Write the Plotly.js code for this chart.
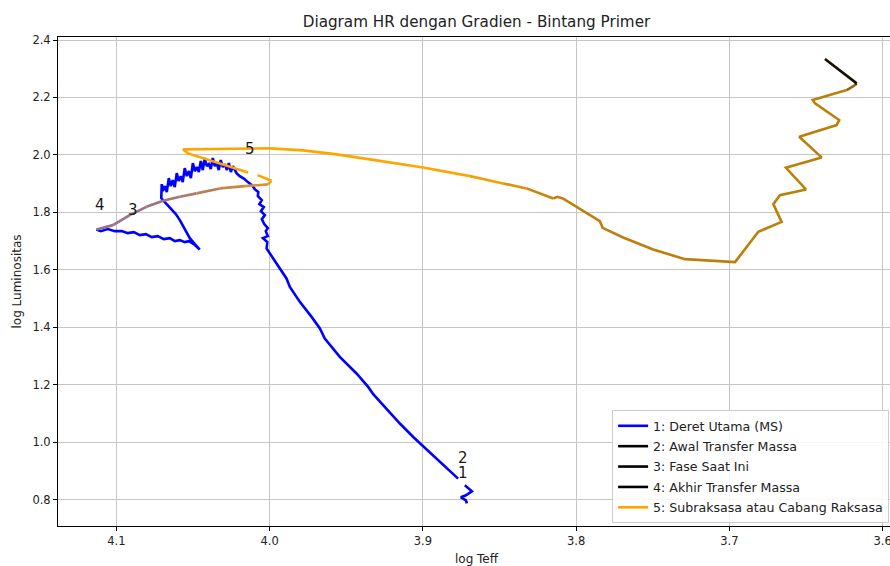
<!DOCTYPE html>
<html>
<head>
<meta charset="utf-8">
<script src="https://cdn.plot.ly/plotly-3.0.1.min.js"></script>
<style>
  html, body { margin: 0; padding: 0; overflow: hidden; background: #fff; }
  #chart { width: 900px; height: 566px; }
</style>
</head>
<body>
<div id="chart"></div>
<script>
// Main-sequence track of the primary (log Teff, log L); null splits the ZAMS hook off
const teffMS = [3.8713,3.8719,3.8752,3.8719,3.8680,3.8726,null,
  3.8770,3.8889,3.8998,3.9063,3.9150,3.9237,3.9324,3.9357,3.9433,3.9542,3.9640,3.9672,3.9726,3.9803,3.9868,3.9890,3.9955,4.0020,
  4.0015,4.0044,4.0012,4.0025,4.0012,4.0035,4.0051,4.0031,4.0057,4.0038,4.0067,4.0051,4.0077,4.0074,4.0097,4.0116,4.0142,4.0168,4.0195,4.0216,
  4.0240,4.0253,4.0266,4.0279,4.0292,4.0305,4.0319,4.0332,4.0345,4.0358,4.0371,4.0384,4.0397,4.0410,4.0423,4.0436,4.0449,4.0462,4.0475,4.0488,
  4.0501,4.0514,4.0527,4.0540,4.0554,4.0567,4.0580,4.0593,4.0606,4.0619,4.0632,4.0645,4.0658,4.0671,4.0684,4.0697,4.0704,4.0707,
  4.0678,4.0645,4.0612,4.0586,4.0567,4.0547,4.0521,4.0488,4.0456,
  4.0495,4.0527,4.0554,4.0586,4.0619,4.0651,4.0691,4.0730,4.0769,4.0808,4.0847,4.0886,4.0926,4.0965,4.1010,4.1056,4.1102,4.1130];
const lumMS = [0.7868,0.7972,0.8077,0.8146,0.8286,0.8495,null,
  0.8728,0.9307,0.9854,1.0178,1.0645,1.1167,1.1666,1.1920,1.2387,1.2965,1.3606,1.3955,1.4359,1.4882,1.5404,1.5697,1.6220,1.6742,
  1.6962,1.7101,1.7171,1.7345,1.7449,1.7589,1.7763,1.7902,1.8042,1.8181,1.8286,1.8425,1.8564,1.8704,1.8808,1.8948,1.9052,1.9174,1.9261,1.9366,
  1.9610,1.9401,1.9714,1.9470,1.9679,1.9575,1.9819,1.9470,1.9714,1.9610,1.9889,1.9505,1.9679,1.9610,1.9889,1.9470,1.9784,1.9401,1.9575,1.9436,
  1.9714,1.9192,1.9436,1.9261,1.9540,1.9052,1.9261,1.9087,1.9366,1.8878,1.9122,1.8913,1.9192,1.8704,1.8913,1.8739,1.8983,1.8495,
  1.8321,1.8146,1.7937,1.7728,1.7554,1.7345,1.7101,1.6892,1.6700,
  1.6892,1.6997,1.6962,1.7031,1.6997,1.7101,1.7066,1.7171,1.7136,1.7240,1.7206,1.7310,1.7275,1.7345,1.7345,1.7415,1.7345,1.7404];

// Post-transfer track: subgiant / giant branch
const teffPost = [4.1130,4.1022,4.0913,4.0804,4.0695,4.0586,4.0477,4.0325,4.0162,4.0010,3.9988,4.0079,null,
  4.0140,4.0532,4.0565,4.0260,3.9999,3.9781,3.9563,3.9346,3.9129,3.8998,3.8693,3.8476,3.8323,3.8149,3.8122,3.8084,
  3.7997,3.7931,3.7845,3.7827,3.7693,3.7497,3.7290,3.6963,3.6887,3.6811,3.6659,3.6713,3.6670,3.6500,3.6631,3.6398,
  3.6544,3.6300,3.6283,3.6441,3.6456,3.6365,3.6234,3.6180,3.6169,3.6376];
const lumPost = [1.7404,1.7554,1.7902,1.8192,1.8401,1.8540,1.8659,1.8833,1.8913,1.8972,1.9098,1.9296,null,
  1.9390,2.0052,2.0192,2.0220,2.0226,2.0157,2.0017,1.9843,1.9669,1.9564,1.9261,1.9007,1.8833,1.8484,1.8540,1.8477,
  1.8192,1.7983,1.7693,1.7460,1.7125,1.6707,1.6369,1.6265,1.6798,1.7321,1.7669,1.8286,1.8599,1.8798,1.9551,1.9913,
  2.0631,2.1038,2.1213,2.1794,2.1909,2.2049,2.2258,2.2432,2.2491,2.3338];

// Phase markers (text positions in log Teff / log L)
const phaseLabels = ['1', '2', '3', '4', '5'];
const phaseTeff = [3.8785, 3.8785, 4.0939, 4.1154, 4.0175];
const phaseLum  = [0.8669, 0.9192, 1.7833, 1.8007, 1.9958];

// Legend entries
const legendNames = ['1: Deret Utama (MS)', '2: Awal Transfer Massa', '3: Fase Saat Ini',
                     '4: Akhir Transfer Massa', '5: Subraksasa atau Cabang Raksasa'];

// ---- styling ----
const legendColors = ['blue', 'black', 'black', 'black', 'orange'];
const LINE_W = 2.6;
// colour stops along the post-transfer track, keyed by point index
const gradStops = [
  [0, [150, 112, 142]], [4, [158, 114, 130]], [7, [190, 130, 78]], [9, [226, 150, 42]],
  [10, [255, 165, 0]], [23, [255, 165, 0]], [26, [189, 127, 11]], [51, [189, 127, 11]],
  [53, [42, 26, 2]], [54, [0, 0, 0]]
];
function gradColor(t) {
  for (let k = 0; k < gradStops.length - 1; k++) {
    const [a, ca] = gradStops[k], [b, cb] = gradStops[k + 1];
    if (t >= a && t <= b) {
      const f = (t - a) / (b - a);
      const c = ca.map((v, j) => Math.round(v + (cb[j] - v) * f));
      return 'rgb(' + c.join(',') + ')';
    }
  }
  const last = gradStops[gradStops.length - 1][1];
  return 'rgb(' + last.join(',') + ')';
}

const traces = [];
// main sequence (also legend entry 1)
traces.push({
  x: teffMS, y: lumMS, mode: 'lines', name: legendNames[0], legendgroup: 'g1',
  line: { color: legendColors[0], width: LINE_W }, connectgaps: false, hoverinfo: 'skip'
});
// legend-only entries 2-5
for (let k = 1; k < legendNames.length; k++) {
  traces.push({
    x: [null], y: [null], mode: 'lines', name: legendNames[k], legendgroup: 'g' + (k + 1),
    line: { color: legendColors[k], width: LINE_W }, hoverinfo: 'skip'
  });
}
// gradient-coloured post-transfer track, grouped into runs of equal colour
let run = null;
for (let i = 0; i < teffPost.length - 1; i++) {
  if (teffPost[i] === null || teffPost[i + 1] === null) { run = null; continue; }
  const col = gradColor(i + 0.5);
  if (run && run.line.color === col) {
    run.x.push(teffPost[i + 1]); run.y.push(lumPost[i + 1]);
  } else {
    run = {
      x: [teffPost[i], teffPost[i + 1]], y: [lumPost[i], lumPost[i + 1]],
      mode: 'lines', showlegend: false, hoverinfo: 'skip', legendgroup: 'g5',
      line: { color: col, width: LINE_W }
    };
    traces.push(run);
  }
}

const annotations = phaseLabels.map((t, k) => ({
  x: phaseTeff[k], y: phaseLum[k], xref: 'x', yref: 'y', text: t, showarrow: false,
  xanchor: 'left', yanchor: 'bottom', yshift: -4,
  font: { family: 'DejaVu Sans', size: 15, color: '#1a1a1a' }
}));

const axisCommon = {
  showgrid: true, gridcolor: '#c6c6c6', gridwidth: 1,
  showline: true, linecolor: '#000', linewidth: 1, mirror: true,
  ticks: 'outside', ticklen: 4, tickwidth: 1, tickcolor: '#000',
  zeroline: false, tickformat: '.1f',
  tickfont: { family: 'DejaVu Sans', size: 11.5, color: '#222' }
};

const layout = {
  width: 900, height: 566,
  margin: { l: 58, r: 5, t: 37, b: 40 },
  paper_bgcolor: '#fff', plot_bgcolor: '#fff',
  font: { family: 'DejaVu Sans', size: 11.5, color: '#222' },
  title: {
    text: 'Diagram HR dengan Gradien - Bintang Primer',
    xref: 'paper', x: 0.5, xanchor: 'center',
    yref: 'container', y: 0.961, yanchor: 'middle',
    font: { family: 'DejaVu Sans', size: 15.2, color: '#222' }
  },
  xaxis: Object.assign({}, axisCommon, {
    range: [4.1381, 3.5919], tick0: 3.6, dtick: 0.1,
    title: { text: 'log Teff', standoff: 11, font: { family: 'DejaVu Sans', size: 12, color: '#222' } }
  }),
  yaxis: Object.assign({}, axisCommon, {
    range: [0.7077, 2.4105], tick0: 0, dtick: 0.2,
    title: { text: 'log Luminositas', standoff: 8, font: { family: 'DejaVu Sans', size: 12, color: '#222' } }
  }),
  legend: {
    x: 0.662, xanchor: 'left', y: 0.237, yanchor: 'top',
    traceorder: 'grouped', tracegroupgap: 1,
    bgcolor: 'rgba(255,255,255,0.85)', bordercolor: '#cccccc', borderwidth: 1,
    font: { family: 'DejaVu Sans', size: 12.6, color: '#222' }, itemwidth: 30
  },
  annotations: annotations,
  showlegend: true
};

Plotly.newPlot('chart', traces, layout, { displayModeBar: false, staticPlot: true });
</script>
</body>
</html>
